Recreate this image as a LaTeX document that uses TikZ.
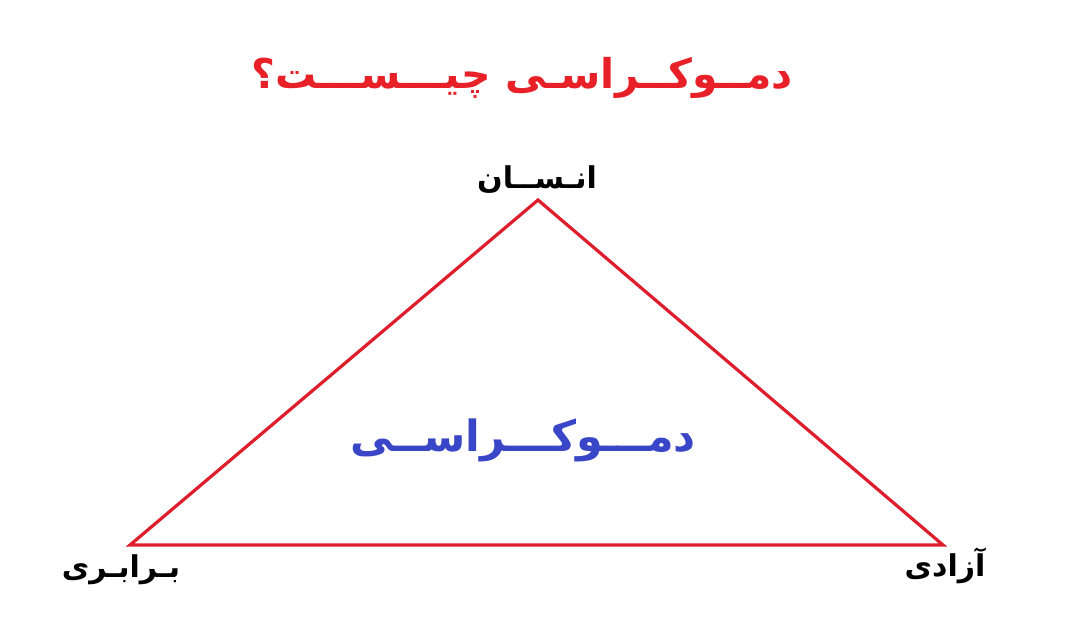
\documentclass[tikz,border=0pt]{standalone}
\usepackage{fontspec}
\TeXXeTstate=1
\newfontfamily\farsi[Script=Arabic]{DejaVu Sans}
\definecolor{titlered}{RGB}{232,32,40}
\definecolor{edgered}{RGB}{222,30,45}
\definecolor{demoblue}{RGB}{58,70,200}
\tikzset{
  fa/.style={inner sep=0pt, font=\farsi\bfseries},
  edge/.style={draw=edgered, line width=3.2pt, line join=miter}
}

\begin{document}
\begin{tikzpicture}[x=1pt,y=-1pt]
	\useasboundingbox [fill=white] (0,0) rectangle (1084,619);
	\coordinate (ensan) at (538,200);
	\coordinate (barabari) at (130,545);
	\coordinate (azadi) at (943,545);
	\draw [edge] (ensan) -- (azadi) -- (barabari) -- cycle;
	\node [fa, text=titlered, font=\farsi\bfseries\fontsize{41}{48}\selectfont] (soal) at (522,78) {\beginR دمــوکــراسـی چیـــســـت؟\endR};
	\node [fa, text=demoblue, font=\farsi\bfseries\fontsize{43}{50}\selectfont] (demo) at (523,440) {\beginR دمـــوکـــراســی\endR};
	\node [fa, font=\farsi\bfseries\fontsize{30}{36}\selectfont] (lbl-ensan) at (537,180) {\beginR انـســان\endR};
	\node [fa, font=\farsi\bfseries\fontsize{30}{36}\selectfont] (lbl-barabari) at (121,570) {\beginR بـرابـری\endR};
	\node [fa, font=\farsi\bfseries\fontsize{30}{36}\selectfont] (lbl-azadi) at (945,566) {\beginR آزادی\endR};
\end{tikzpicture}
\end{document}
